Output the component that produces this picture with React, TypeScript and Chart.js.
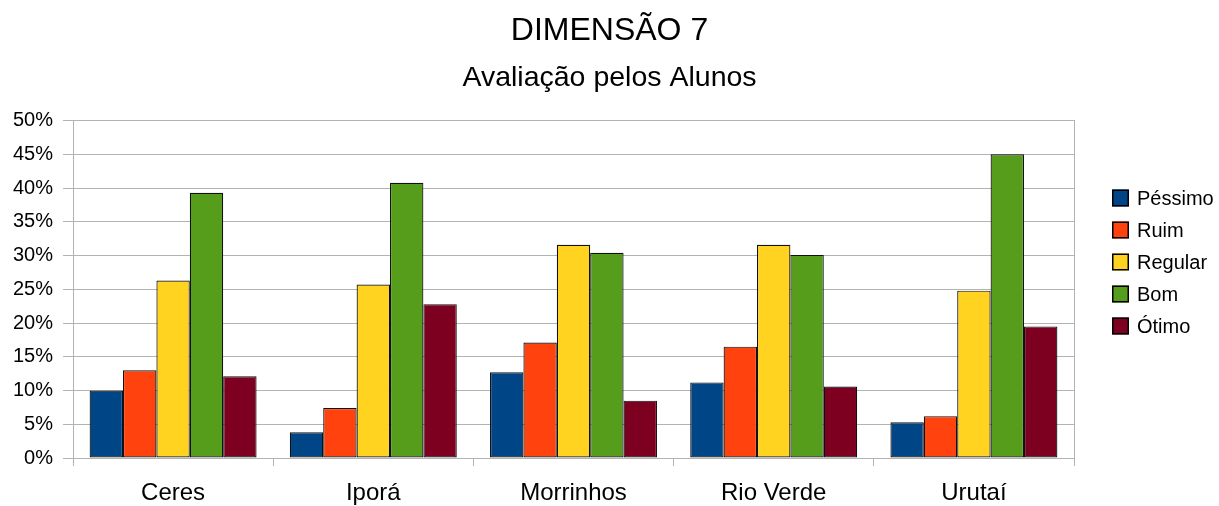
import { useEffect, useRef } from "react";
import { Chart, registerables } from "chart.js";

Chart.register(...registerables);

const FONT = '"Liberation Sans", Arial, sans-serif';

const titleText = "DIMENSÃO 7";
const subtitleText = "Avaliação pelos Alunos";
const categories = ["Ceres", "Iporá", "Morrinhos", "Rio Verde", "Urutaí"];
const seriesNames = ["Péssimo", "Ruim", "Regular", "Bom", "Ótimo"];
const pessimo = [10.0, 3.8, 12.7, 11.2, 5.3];
const ruim = [13.0, 7.4, 17.1, 16.5, 6.2];
const regular = [26.3, 25.7, 31.6, 31.6, 24.8];
const bom = [39.3, 40.8, 30.4, 30.1, 45.0];
const otimo = [12.1, 22.8, 8.5, 10.6, 19.5];
const seriesValues = [pessimo, ruim, regular, bom, otimo];
const colors = ["#004586", "#ff420e", "#ffd320", "#579d1c", "#7e0021"];
const yMin = 0;
const yMax = 50;
const yStep = 5;

const GRID = "#b3b3b3";

const sideLegend = {
  id: "sideLegend",
  afterDraw(chart: any, _args: any, o: any) {
    const ctx = chart.ctx;
    ctx.save();
    ctx.font = `${o.size}px ${FONT}`;
    ctx.textBaseline = "middle";
    ctx.textAlign = "left";
    chart.data.datasets.forEach((ds: any, i: number) => {
      const y = o.top + i * o.step;
      ctx.fillStyle = ds.backgroundColor;
      ctx.fillRect(o.x, y - o.box / 2, o.box, o.box);
      ctx.strokeStyle = "#000";
      ctx.lineWidth = 1.5;
      ctx.strokeRect(o.x + 0.75, y - o.box / 2 + 0.75, o.box - 1.5, o.box - 1.5);
      ctx.fillStyle = "#000";
      ctx.fillText(ds.label, o.x + o.box + o.gap, y + 1);
    });
    ctx.restore();
  },
};

export default function App() {
  const ref = useRef<HTMLCanvasElement | null>(null);

  useEffect(() => {
    if (!ref.current) return;
    const chart = new Chart(ref.current, {
      type: "bar",
      data: {
        labels: categories,
        datasets: seriesNames.map((name, i) => ({
          label: name,
          data: seriesValues[i],
          backgroundColor: colors[i],
          borderColor: "#111",
          borderWidth: 1.2,
          borderSkipped: false,
          categoryPercentage: 0.834,
          barPercentage: 1,
        })),
      },
      plugins: [sideLegend],
      options: {
        responsive: false,
        animation: false,
        layout: { padding: { left: 0, right: 0, top: 0, bottom: 0 } },
        plugins: {
          legend: { display: false },
          tooltip: { enabled: false },
          title: {
            display: true,
            text: titleText,
            color: "#000",
            font: { family: FONT, size: 32, weight: "normal" },
            padding: { top: 12, bottom: 0 },
          },
          subtitle: {
            display: true,
            text: subtitleText,
            color: "#000",
            font: { family: FONT, size: 28.5, weight: "normal" },
            padding: { top: 11, bottom: 25 },
          },
          sideLegend: { x: 1112, top: 198, step: 32, box: 17, gap: 8, size: 20 },
        } as any,
        scales: {
          x: {
            offset: true,
            grid: {
              offset: true,
              drawOnChartArea: false,
              drawTicks: true,
              tickLength: 8,
              color: GRID,
              tickColor: GRID,
              lineWidth: 1,
            },
            border: { display: true, color: GRID, width: 1 },
            ticks: {
              color: "#000",
              font: { family: FONT, size: 24 },
              padding: 13,
            },
            afterFit: (s: any) => {
              s.height = 48;
            },
          },
          y: {
            min: yMin,
            max: yMax,
            ticks: {
              stepSize: yStep,
              color: "#000",
              font: { family: FONT, size: 20 },
              padding: 10,
              callback: (v: any) => `${v}%`,
            },
            grid: {
              color: GRID,
              tickColor: GRID,
              drawTicks: true,
              tickLength: 10,
              lineWidth: 1,
            },
            border: { display: true, color: GRID, width: 1 },
            afterFit: (s: any) => {
              s.width = 73;
            },
          },
          yRight: {
            position: "right",
            display: true,
            min: yMin,
            max: yMax,
            ticks: { display: false },
            grid: { drawOnChartArea: false, drawTicks: false },
            border: { display: true, color: GRID, width: 1 },
            afterFit: (s: any) => {
              s.width = 145;
            },
          },
        } as any,
      },
    });
    return () => chart.destroy();
  }, []);

  return (
    <div style={{ position: "absolute", left: 0, top: 0, width: 1219, height: 506, background: "#fff" }}>
      <canvas ref={ref} width={1219} height={506} />
    </div>
  );
}
